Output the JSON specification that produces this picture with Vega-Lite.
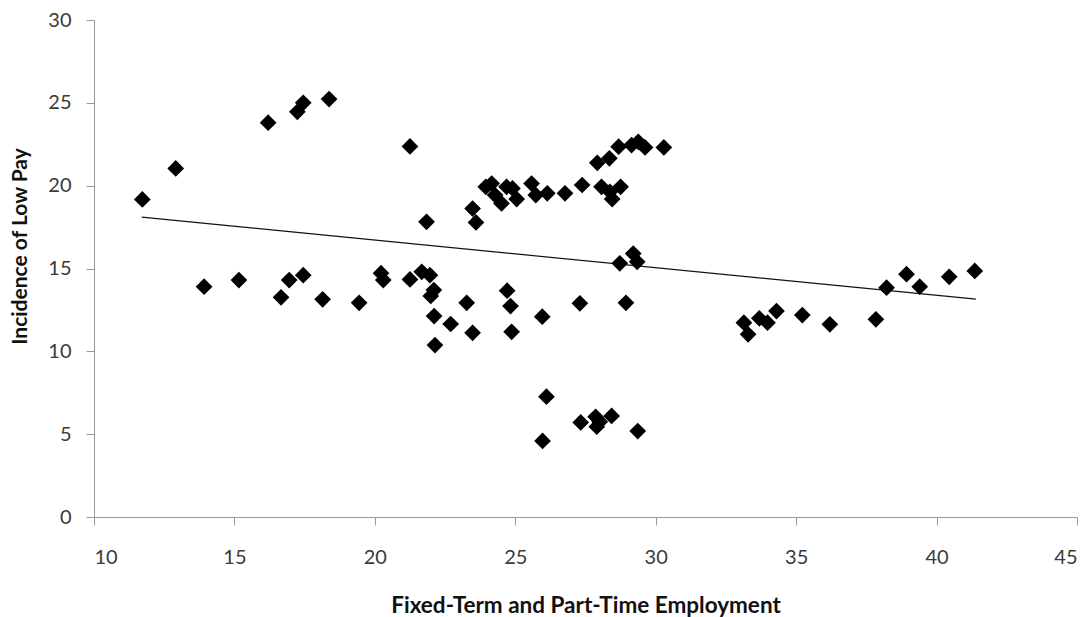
{
  "$schema": "https://vega.github.io/schema/vega-lite/v6.json",
  "width": 983,
  "height": 497,
  "autosize": {"type": "none"},
  "padding": {"left": 94, "top": 20, "right": 15, "bottom": 100},
  "background": "white",
  "config": {
    "view": {"stroke": null},
    "axis": {
      "grid": false,
      "domainColor": "#9a9a9a",
      "tickColor": "#9a9a9a",
      "tickSize": 8,
      "labelFont": "Lato",
      "labelFontSize": 20,
      "labelColor": "#3a3a3a",
      "titleFont": "Lato",
      "titleFontSize": 21,
      "titleFontWeight": "bold",
      "titleColor": "#111111"
    }
  },
  "datasets": {
    "points": [
      {"x": 11.72, "y": 19.17}, {"x": 12.91, "y": 21.04}, {"x": 13.92, "y": 13.9}, {"x": 15.16, "y": 14.3},
      {"x": 16.2, "y": 23.8}, {"x": 17.24, "y": 24.46}, {"x": 17.45, "y": 25.0}, {"x": 18.37, "y": 25.23},
      {"x": 16.66, "y": 13.26}, {"x": 16.95, "y": 14.3}, {"x": 17.45, "y": 14.6}, {"x": 18.14, "y": 13.14},
      {"x": 19.44, "y": 12.93}, {"x": 20.22, "y": 14.72}, {"x": 20.3, "y": 14.3},
      {"x": 21.25, "y": 22.37}, {"x": 21.84, "y": 17.82}, {"x": 23.48, "y": 18.62}, {"x": 23.6, "y": 17.78},
      {"x": 23.95, "y": 19.93}, {"x": 24.16, "y": 20.13}, {"x": 24.28, "y": 19.43}, {"x": 24.51, "y": 18.93},
      {"x": 24.69, "y": 19.93}, {"x": 24.9, "y": 19.83}, {"x": 25.05, "y": 19.19}, {"x": 25.58, "y": 20.13},
      {"x": 25.73, "y": 19.43}, {"x": 26.14, "y": 19.54}, {"x": 26.77, "y": 19.54}, {"x": 27.38, "y": 20.04},
      {"x": 27.92, "y": 21.38}, {"x": 28.35, "y": 21.65}, {"x": 28.68, "y": 22.35}, {"x": 29.14, "y": 22.45},
      {"x": 29.38, "y": 22.65}, {"x": 29.62, "y": 22.31}, {"x": 30.29, "y": 22.31},
      {"x": 28.07, "y": 19.93}, {"x": 28.37, "y": 19.63}, {"x": 28.45, "y": 19.19}, {"x": 28.75, "y": 19.93},
      {"x": 28.72, "y": 15.31}, {"x": 29.2, "y": 15.9}, {"x": 29.34, "y": 15.4},
      {"x": 21.25, "y": 14.34}, {"x": 21.67, "y": 14.8}, {"x": 21.96, "y": 14.6}, {"x": 22.1, "y": 13.7},
      {"x": 21.99, "y": 13.34}, {"x": 22.11, "y": 12.13}, {"x": 22.7, "y": 11.65}, {"x": 22.14, "y": 10.38},
      {"x": 23.27, "y": 12.93}, {"x": 23.48, "y": 11.12}, {"x": 24.71, "y": 13.66}, {"x": 24.83, "y": 12.73},
      {"x": 24.87, "y": 11.18}, {"x": 25.96, "y": 12.09}, {"x": 27.3, "y": 12.9}, {"x": 28.94, "y": 12.93},
      {"x": 26.11, "y": 7.26}, {"x": 25.97, "y": 4.59}, {"x": 27.33, "y": 5.71}, {"x": 27.86, "y": 6.05},
      {"x": 27.9, "y": 5.45}, {"x": 28.01, "y": 5.75}, {"x": 28.43, "y": 6.1}, {"x": 29.36, "y": 5.19},
      {"x": 33.14, "y": 11.73}, {"x": 33.29, "y": 11.03}, {"x": 33.69, "y": 11.99}, {"x": 33.98, "y": 11.73},
      {"x": 34.3, "y": 12.43}, {"x": 35.22, "y": 12.19}, {"x": 36.2, "y": 11.63}, {"x": 37.84, "y": 11.93},
      {"x": 38.22, "y": 13.84}, {"x": 38.93, "y": 14.66}, {"x": 39.4, "y": 13.9}, {"x": 40.45, "y": 14.5},
      {"x": 41.36, "y": 14.85}
    ],
    "trend": [
      {"x": 11.7, "y": 18.1},
      {"x": 41.4, "y": 13.15}
    ]
  },
  "layer": [
    {
      "data": {"name": "trend"},
      "mark": {"type": "line", "color": "#111111", "strokeWidth": 1.2},
      "encoding": {
        "x": {"field": "x", "type": "quantitative", "scale": {"domain": [10, 45], "nice": false, "zero": false},
              "axis": {"values": [10, 15, 20, 25, 30, 35, 40, 45], "title": "Fixed-Term and Part-Time Employment",
                       "labelPadding": 22, "titleBaseline": "middle", "titleY": 88, "titleFontSize": 22.5}},
        "y": {"field": "y", "type": "quantitative", "scale": {"domain": [0, 30], "nice": false},
              "axis": {"values": [0, 5, 10, 15, 20, 25, 30], "title": "Incidence of Low Pay",
                       "labelPadding": 15, "titleX": -74, "titleY": 226, "titleBaseline": "middle"}}
      }
    },
    {
      "data": {"name": "points"},
      "mark": {"type": "point", "shape": "diamond", "filled": true, "color": "#000000", "opacity": 1, "size": 280},
      "encoding": {
        "x": {"field": "x", "type": "quantitative"},
        "y": {"field": "y", "type": "quantitative"}
      }
    }
  ]
}
